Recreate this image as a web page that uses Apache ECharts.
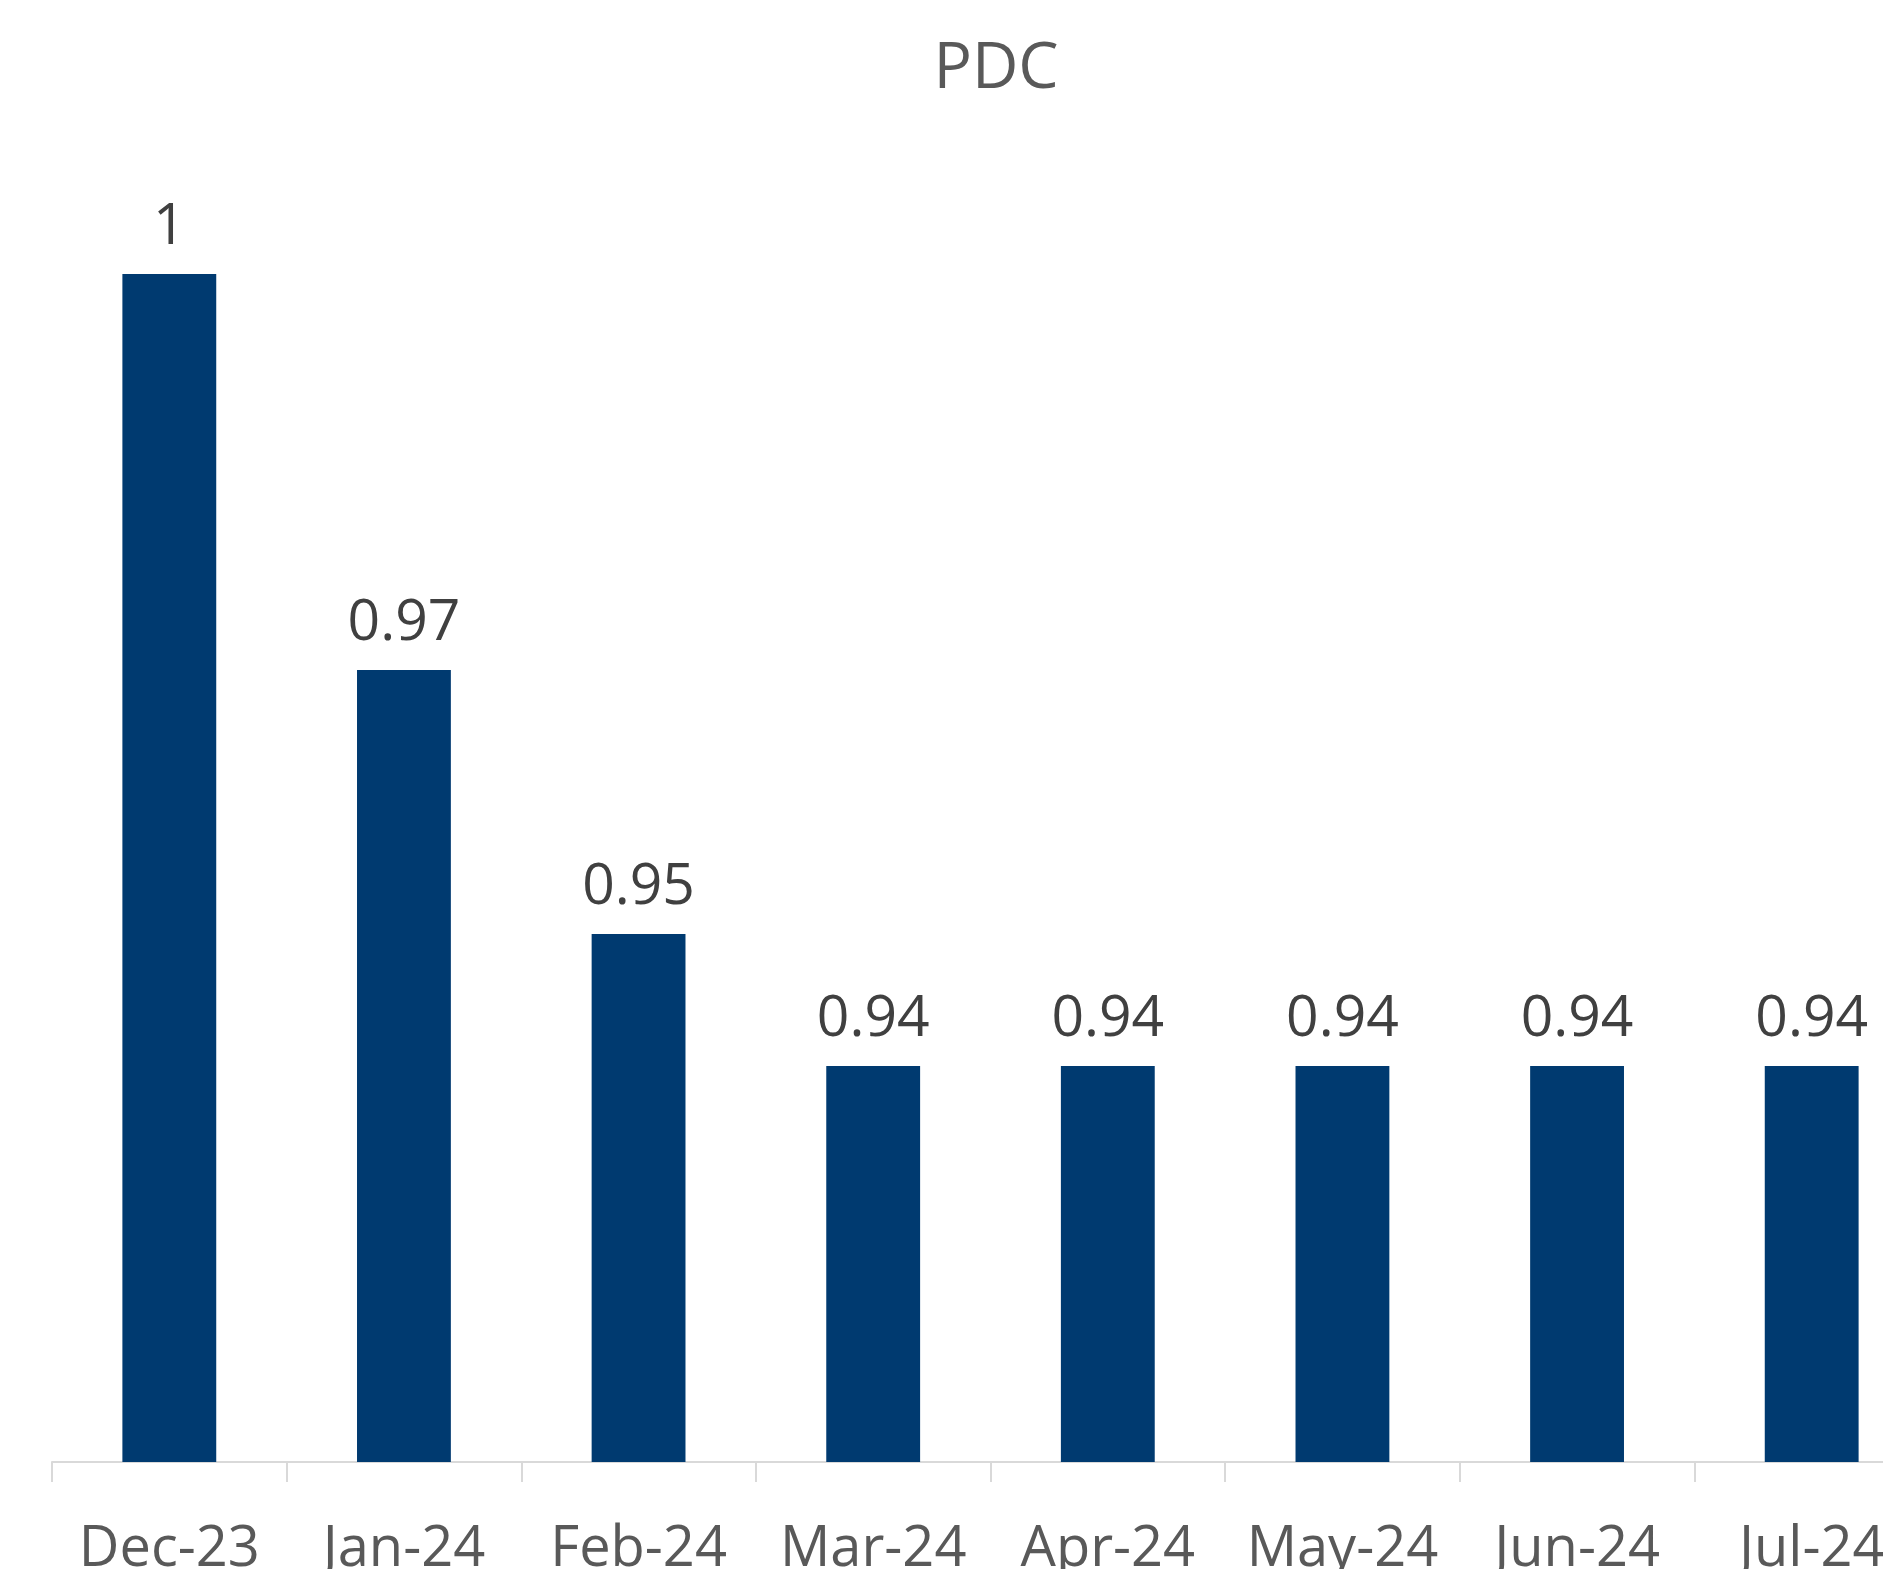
<!DOCTYPE html>
<html>
<head>
<meta charset="utf-8">
<title>PDC</title>
<script src="https://cdn.jsdelivr.net/npm/echarts@6/dist/echarts.min.js"></script>
<style>
  html, body { margin: 0; padding: 0; background: #fff; }
  #chart { width: 1883px; height: 1569px; }
</style>
</head>
<body>
<div id="chart"></div>
<script>
// categories & values
var months = ['Dec-23', 'Jan-24', 'Feb-24', 'Mar-24', 'Apr-24', 'May-24', 'Jun-24', 'Jul-24'];
var pdcValues = [1, 0.97, 0.95, 0.94, 0.94, 0.94, 0.94, 0.94];

var myChart = echarts.init(document.getElementById('chart'));

myChart.setOption({
    backgroundColor: '#fff',
    animation: false,
    title: {
        text: 'PDC',
        left: 991,
        top: 33,
        textAlign: 'center',
        textStyle: {
            fontFamily: 'Open Sans',
            fontWeight: 'normal',
            fontSize: 64,
            color: '#595959'
        }
    },
    // plot is wider than the window, the right part is cut off like in the picture
    grid: {
        left: 52,
        top: 274,
        width: 1877,
        bottom: 107,
        containLabel: false,
        outerBoundsMode: 'none'
    },
    xAxis: {
        type: 'category',
        data: months,
        axisLine: { lineStyle: { color: '#d9d9d9', width: 2 } },
        axisTick: { show: true, length: 20, lineStyle: { color: '#d9d9d9', width: 2 } },
        axisLabel: {
            interval: 0,
            margin: 60,
            fontFamily: 'Open Sans',
            fontSize: 56,
            color: '#595959'
        }
    },
    yAxis: {
        type: 'value',
        min: 0.91,
        max: 1,
        show: false,
        splitLine: { show: false }
    },
    series: [{
        name: 'PDC',
        type: 'bar',
        data: pdcValues,
        barWidth: '40%',
        itemStyle: { color: '#003a70' },
        label: {
            show: true,
            position: 'top',
            distance: 18,
            fontFamily: 'Open Sans',
            fontSize: 57,
            color: '#404040'
        }
    }]
});
</script>
</body>
</html>
